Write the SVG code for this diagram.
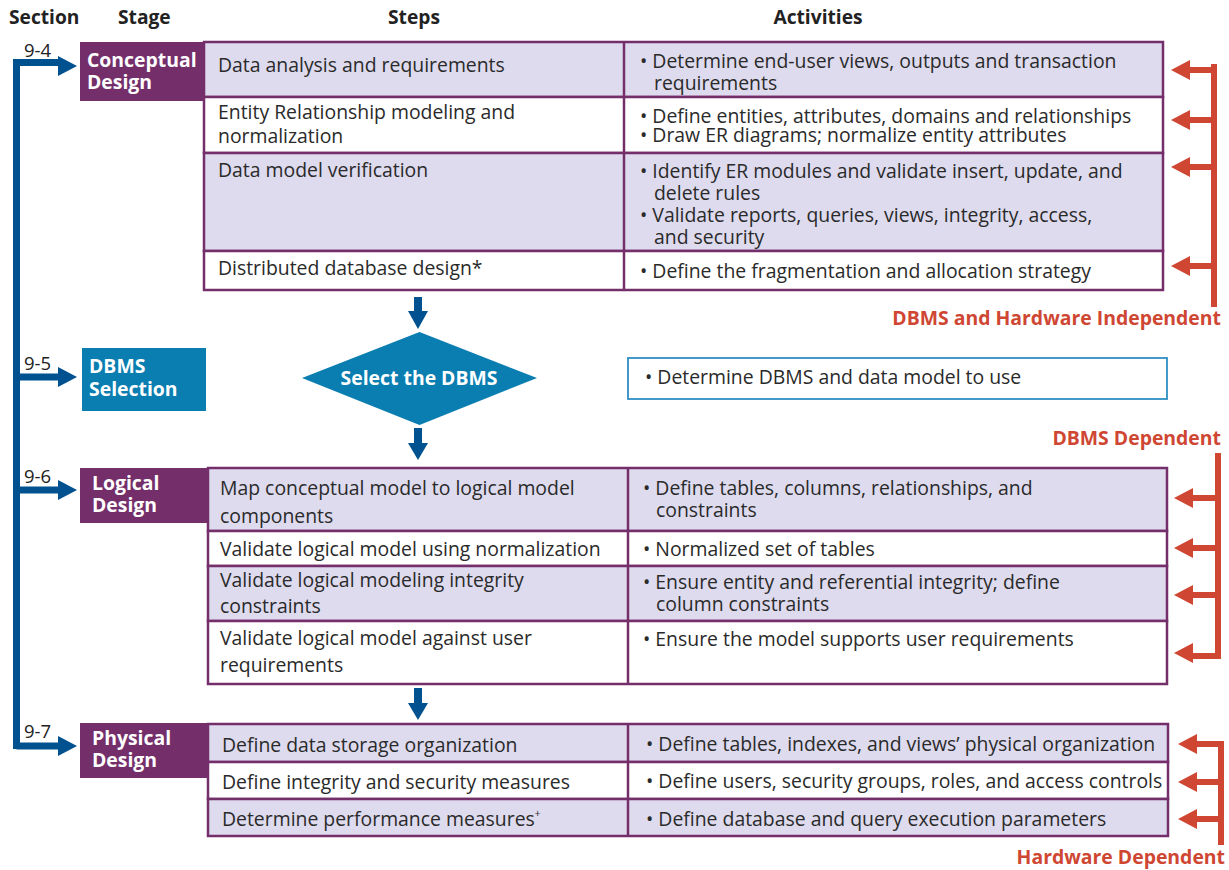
<svg xmlns="http://www.w3.org/2000/svg" width="1229" height="870" viewBox="0 0 1229 870">
<style>
text{font-family:"Open Sans","Liberation Sans",sans-serif;}
.hd{font-size:19.2px;font-weight:bold;fill:#222;}
.t{font-size:19.4px;fill:#2a2a2a;}
.st{font-size:19.4px;font-weight:bold;fill:#fff;}
.sec{font-size:18.5px;fill:#222;}
.red{font-size:19.4px;font-weight:bold;fill:#cf4733;}
.lav{fill:#dedbee;stroke:#742f6b;stroke-width:2.5;}
.wh{fill:#fff;stroke:#742f6b;stroke-width:2.5;}
.stage{fill:#742f6b;}
.blue{fill:#00518f;}
.bl{stroke:#00518f;stroke-width:7;fill:none;}
.rd{fill:#cf4733;}
.rl{stroke:#cf4733;stroke-width:6;fill:none;}
</style>
<rect width="1229" height="870" fill="#fff"/>
<g id="headers">
<text class="hd" x="9" y="24">Section</text>
<text class="hd" x="118" y="24">Stage</text>
<text class="hd" x="414" y="24" text-anchor="middle">Steps</text>
<text class="hd" x="818" y="24" text-anchor="middle">Activities</text>
</g>
<g id="connectors">
<path class="bl" d="M16.5,749 V62.5 H60"/>
<path class="bl" d="M16.5,377 H60 M16.5,490 H60 M16.5,746 H60"/>
<polygon class="blue" points="58,56 77,66 58,76"/>
<polygon class="blue" points="58,367 77,377 58,387"/>
<polygon class="blue" points="58,480 77,490 58,500"/>
<polygon class="blue" points="58,736 77,746 58,756"/>
<rect class="blue" x="414" y="297" width="8" height="16"/>
<polygon class="blue" points="408,311 428,311 418,329"/>
<rect class="blue" x="414" y="428" width="8" height="16"/>
<polygon class="blue" points="408,443 428,443 418,460"/>
<rect class="blue" x="414" y="688" width="8" height="16"/>
<polygon class="blue" points="408,703 428,703 418,720"/>
<path class="rl" d="M1214,64 V307 M1188,70 H1214 M1188,120 H1214 M1188,167 H1214 M1188,266 H1214"/>
<polygon class="rd" points="1171,70 1190,60 1190,80"/>
<polygon class="rd" points="1171,120 1190,110 1190,130"/>
<polygon class="rd" points="1171,167 1190,157 1190,177"/>
<polygon class="rd" points="1171,266 1190,256 1190,276"/>
<path class="rl" d="M1218,453 V656 H1191 M1191,498 H1218 M1191,548 H1218 M1191,595 H1218"/>
<polygon class="rd" points="1174,498 1193,488 1193,508"/>
<polygon class="rd" points="1174,548 1193,538 1193,558"/>
<polygon class="rd" points="1174,595 1193,585 1193,605"/>
<polygon class="rd" points="1174,653 1193,643 1193,663"/>
<path class="rl" d="M1195,744 H1221 V845 M1195,782 H1221 M1195,819 H1221"/>
<polygon class="rd" points="1178,744 1197,734 1197,754"/>
<polygon class="rd" points="1178,782 1197,772 1197,792"/>
<polygon class="rd" points="1178,819 1197,809 1197,829"/>
<text class="sec" x="24" y="57">9-4</text>
<text class="sec" x="24" y="370">9-5</text>
<text class="sec" x="24" y="483">9-6</text>
<text class="sec" x="24" y="738">9-7</text>
<text class="red" x="1221" y="325" text-anchor="end">DBMS and Hardware Independent</text>
<text class="red" x="1221" y="445" text-anchor="end">DBMS Dependent</text>
<text class="red" x="1225" y="864" text-anchor="end">Hardware Dependent</text>
</g>
<g id="conceptual">
<rect class="stage" x="80" y="42" width="124" height="59"/>
<text class="st" x="87" y="67">Conceptual</text>
<text class="st" x="87" y="89">Design</text>
<rect class="lav" x="204" y="42" width="959" height="55"/>
<rect class="wh" x="204" y="97" width="959" height="56"/>
<rect class="lav" x="204" y="153" width="959" height="98"/>
<rect class="wh" x="204" y="251" width="959" height="39"/>
<line x1="624" y1="42" x2="624" y2="290" stroke="#742f6b" stroke-width="2.5"/>
<text class="t" x="218" y="72">Data analysis and requirements</text>
<text class="t" x="218" y="119">Entity Relationship modeling and</text>
<text class="t" x="218" y="143">normalization</text>
<text class="t" x="218" y="177">Data model verification</text>
<text class="t" x="218" y="275">Distributed database design*</text>
<text class="t" x="640" y="68">• Determine end-user views, outputs and transaction</text>
<text class="t" x="654" y="90">requirements</text>
<text class="t" x="640" y="123">• Define entities, attributes, domains and relationships</text>
<text class="t" x="640" y="142">• Draw ER diagrams; normalize entity attributes</text>
<text class="t" x="640" y="178">• Identify ER modules and validate insert, update, and</text>
<text class="t" x="654" y="200">delete rules</text>
<text class="t" x="640" y="222">• Validate reports, queries, views, integrity, access,</text>
<text class="t" x="654" y="244">and security</text>
<text class="t" x="640" y="278">• Define the fragmentation and allocation strategy</text>
</g>
<g id="dbms">
<rect x="82" y="348" width="124" height="63" fill="#0a7db1"/>
<text class="st" x="89" y="373">DBMS</text>
<text class="st" x="89" y="396">Selection</text>
<polygon points="302,378 419.5,332 537,378 419.5,425" fill="#0a7db1"/>
<text class="st" x="419" y="385" text-anchor="middle">Select the DBMS</text>
<rect x="628" y="358" width="539" height="41" fill="#fff" stroke="#2f8fc4" stroke-width="1.8"/>
<text class="t" x="645" y="384">• Determine DBMS and data model to use</text>
</g>
<g id="logical">
<rect class="stage" x="80" y="468" width="128" height="55"/>
<text class="st" x="92" y="490">Logical</text>
<text class="st" x="92" y="512">Design</text>
<rect class="lav" x="208" y="468" width="959" height="63"/>
<rect class="wh" x="208" y="531" width="959" height="35"/>
<rect class="lav" x="208" y="566" width="959" height="55"/>
<rect class="wh" x="208" y="621" width="959" height="63"/>
<line x1="628" y1="468" x2="628" y2="684" stroke="#742f6b" stroke-width="2.5"/>
<text class="t" x="220" y="495">Map conceptual model to logical model</text>
<text class="t" x="220" y="523">components</text>
<text class="t" x="220" y="556">Validate logical model using normalization</text>
<text class="t" x="220" y="587">Validate logical modeling integrity</text>
<text class="t" x="220" y="613">constraints</text>
<text class="t" x="220" y="645">Validate logical model against user</text>
<text class="t" x="220" y="672">requirements</text>
<text class="t" x="643" y="495">• Define tables, columns, relationships, and</text>
<text class="t" x="656" y="517">constraints</text>
<text class="t" x="643" y="556">• Normalized set of tables</text>
<text class="t" x="643" y="589">• Ensure entity and referential integrity; define</text>
<text class="t" x="656" y="611">column constraints</text>
<text class="t" x="643" y="646">• Ensure the model supports user requirements</text>
</g>
<g id="physical">
<rect class="stage" x="80" y="723" width="128" height="55"/>
<text class="st" x="92" y="745">Physical</text>
<text class="st" x="92" y="767">Design</text>
<rect class="lav" x="208" y="724" width="960" height="38"/>
<rect class="wh" x="208" y="762" width="960" height="37"/>
<rect class="lav" x="208" y="799" width="960" height="37"/>
<line x1="628" y1="724" x2="628" y2="836" stroke="#742f6b" stroke-width="2.5"/>
<text class="t" x="222" y="752">Define data storage organization</text>
<text class="t" x="222" y="789">Define integrity and security measures</text>
<text class="t" x="222" y="826">Determine performance measures<tspan font-size="10" dy="-9">+</tspan></text>
<text class="t" x="646" y="751">• Define tables, indexes, and views’ physical organization</text>
<text class="t" x="646" y="788">• Define users, security groups, roles, and access controls</text>
<text class="t" x="646" y="826">• Define database and query execution parameters</text>
</g>
</svg>
